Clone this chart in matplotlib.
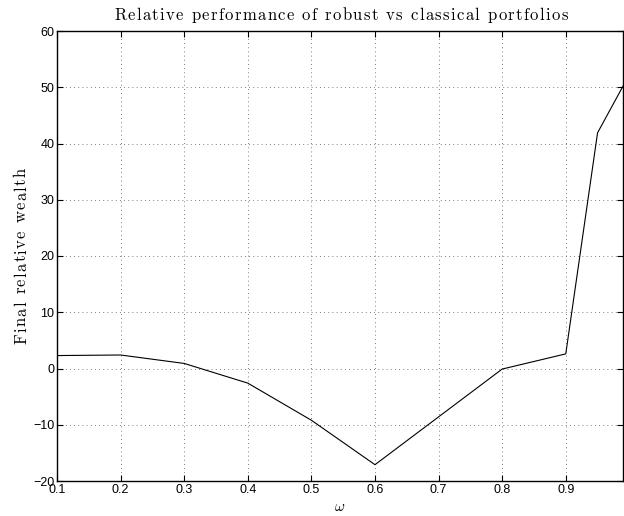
import numpy as np
from matplotlib import pyplot as plt
from matplotlib.font_manager import FontProperties
from matplotlib.transforms import IdentityTransform

# omega values and final relative wealth
omega = [0.1, 0.2, 0.3, 0.4, 0.5, 0.6, 0.7, 0.8, 0.9, 0.95, 0.99]
rel_wealth = [2.3, 2.4, 0.9, -2.6, -9.2, -17.1, -8.6, -0.1, 2.6, 41.9, 50.2]

x_ticks = [0.1, 0.2, 0.3, 0.4, 0.5, 0.6, 0.7, 0.8, 0.9]
y_ticks = [-20, -10, 0, 10, 20, 30, 40, 50, 60]

title = 'Relative performance of robust vs classical portfolios'
ylabel = 'Final relative wealth'

plt.rcParams['mathtext.fontset'] = 'cm'
plt.rcParams['font.family'] = ['Liberation Sans', 'DejaVu Sans']


def spaced_text(fig, s, center, base, fp, track, vertical=False):
    """Draw s one glyph at a time with extra letter spacing (pixels)."""
    renderer = fig.canvas.get_renderer()

    def w(t):
        return renderer.get_text_width_height_descent(t, fp, ismath=False)[0]

    ref = w('x')
    starts = [w(s[:i] + 'x') - ref + track * i for i in range(len(s))]
    total = starts[-1] + w(s[-1])
    for c, p in zip(s, starts):
        if c == ' ':
            continue
        pos = center - total / 2 + p
        if vertical:
            fig.text(base, pos, c, fontproperties=fp, rotation=90,
                     rotation_mode='anchor', ha='left', va='baseline',
                     transform=IdentityTransform())
        else:
            fig.text(pos, base, c, fontproperties=fp, ha='left', va='baseline',
                     transform=IdentityTransform())


fig = plt.figure(figsize=(6.24, 5.16), dpi=100)
ax = fig.add_axes([57 / 624, 35 / 516, 566 / 624, 450 / 516])

ax.plot(omega, rel_wealth, color='black', linewidth=0.8)

ax.set_xlim(0.1, 0.99)
ax.set_ylim(-20, 60)
ax.set_xticks(x_ticks)
ax.set_yticks(y_ticks)
ax.set_xticklabels([f'{t:.1f}' for t in x_ticks])
ax.set_yticklabels([str(t).replace('-', '\u2212') for t in y_ticks])

ax.grid(True, linestyle=(0, (1, 4)), color='#555555', linewidth=0.6)
ax.tick_params(direction='in', length=4, width=0.8, top=True, right=True,
               labelsize=9, pad=2, colors='black')
for s in ax.spines.values():
    s.set_linewidth(1.0)

ax.set_xlabel(r'$\omega$', fontsize=11, labelpad=3)

# title and y label in a wide-set serif, as in the reference
fp = FontProperties(family='cmr10', size=12)
spaced_text(fig, title, 341, 516 - 20, fp, 1.3)
spaced_text(fig, ylabel, 516 - 256, 26, fp, 1.3, vertical=True)

fig.savefig('out.png', dpi=100)
